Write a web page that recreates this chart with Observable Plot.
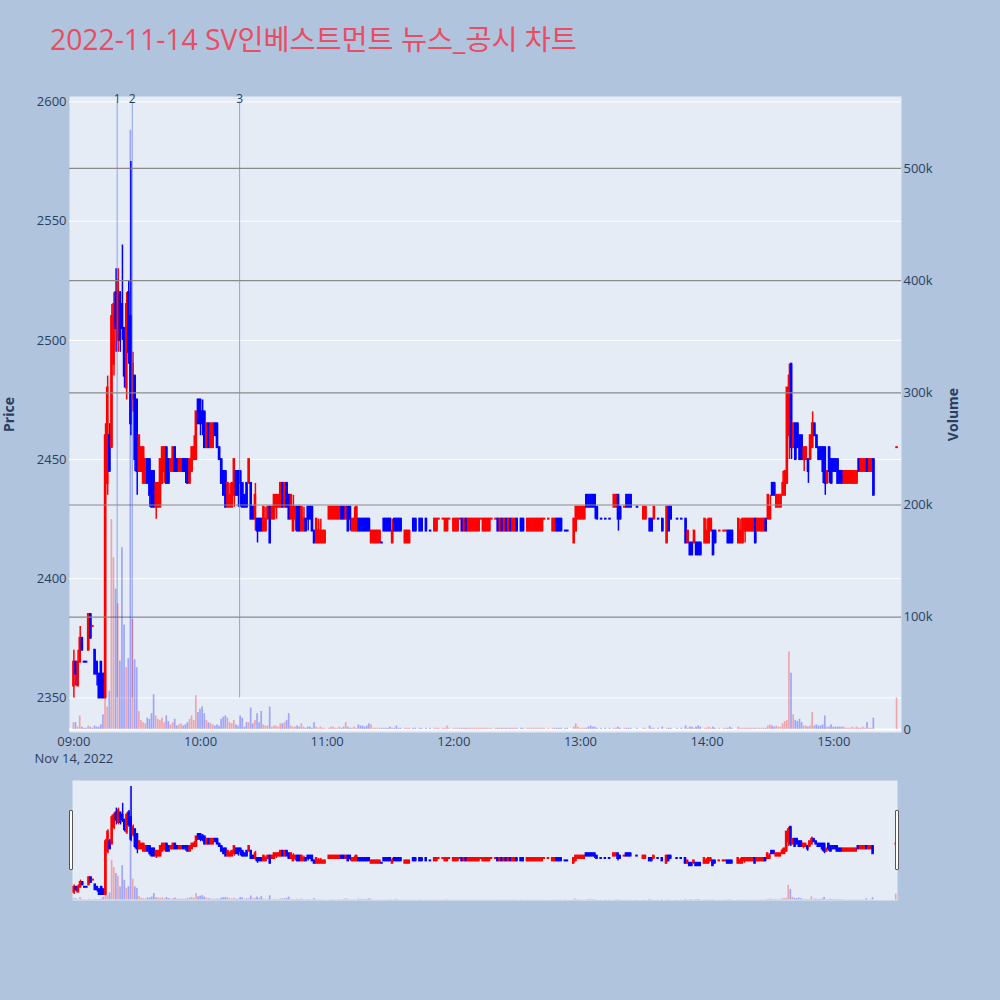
<!DOCTYPE html>
<html>
<head>
<meta charset="utf-8">
<script src="https://cdn.jsdelivr.net/npm/d3@7"></script>
<script src="https://cdn.jsdelivr.net/npm/@observablehq/plot@0.6"></script>
<style>
  html, body { margin: 0; padding: 0; background: #b0c4de; }
  #wrap { position: relative; width: 1000px; height: 1000px; background: #b0c4de; overflow: hidden; }
  #wrap svg { position: absolute; left: 0; }
  #title { position: absolute; left: 50px; top: 25px; font-size: 28.3px; line-height: 28px; color: #ea4c63;
           white-space: nowrap; font-family: 'Open Sans', 'Noto Sans CJK KR', sans-serif; }
  .handle { position: absolute; width: 2px; height: 58px; background: #fff; border: 1px solid #555; border-radius: 1px; }
</style>
</head>
<body>
<div id="wrap">
  <div id="title">2022-11-14 SV인베스트먼트 뉴스_공시 차트</div>
</div>
<script>
// ---------------- data (minutes after 09:00, OHLC in KRW, volume in thousand shares) ----------------
const minutes = [
  0,1,2,3,4,5,6,7,8,9,
  10,11,12,13,14,15,16,17,18,19,
  20,21,22,23,24,25,26,27,28,29,
  30,31,32,33,34,35,36,37,38,39,
  40,41,42,43,44,45,46,47,48,49,
  50,51,52,53,54,55,56,57,58,59,
  60,61,62,63,64,65,66,67,68,69,
  70,71,72,73,74,75,76,77,78,79,
  80,81,82,83,84,85,86,87,88,89,
  90,91,92,93,94,95,96,97,98,99,
  100,101,102,103,104,105,106,107,108,109,
  110,111,112,113,114,115,116,117,118,119,
  121,122,123,124,125,126,127,128,129,130,
  131,132,133,134,135,136,137,138,139,140,
  141,142,143,144,145,146,147,148,149,150,
  151,152,153,154,155,157,158,159,161,162,
  164,165,167,169,171,172,173,175,176,177,
  178,180,181,182,183,184,185,186,187,188,
  189,190,191,192,193,194,195,196,197,198,
  200,201,202,203,204,205,206,207,208,209,
  210,212,213,215,216,217,218,219,220,221,
  222,223,225,227,228,229,230,231,233,234,
  237,238,239,240,241,242,243,244,245,246,
  247,248,250,252,254,256,257,258,259,261,
  262,263,264,267,270,271,273,274,275,277,
  279,281,282,283,286,288,290,291,292,293,
  294,295,296,297,299,300,301,302,303,304,
  306,308,309,310,311,312,315,316,317,318,
  319,320,321,322,323,324,325,326,327,328,
  329,330,331,332,333,334,335,336,337,338,
  339,340,341,342,343,344,345,346,347,348,
  349,350,351,352,353,354,355,356,357,358,
  359,360,361,362,363,364,365,366,367,368,
  369,370,371,372,373,374,375,376,377,378,
  379,390
];
const opens = [
  2355,2365,2355,2365,2375,2365,2365,2370,2385,2380,
  2370,2365,2360,2365,2360,2350,2440,2460,2455,2490,
  2520,2500,2520,2515,2505,2480,2520,2510,2475,2485,
  2475,2445,2445,2440,2440,2450,2450,2445,2445,2430,
  2430,2430,2440,2445,2455,2450,2445,2445,2455,2450,
  2445,2445,2450,2450,2450,2440,2445,2450,2450,2475,
  2475,2470,2470,2455,2465,2455,2455,2465,2465,2455,
  2450,2445,2445,2430,2430,2430,2435,2445,2445,2445,
  2440,2435,2440,2440,2440,2430,2425,2425,2425,2425,
  2420,2420,2425,2430,2425,2425,2430,2430,2430,2440,
  2430,2440,2435,2425,2420,2425,2430,2430,2420,2420,
  2425,2430,2430,2430,2420,2415,2415,2415,2415,2415,
  2425,2425,2425,2425,2425,2425,2430,2430,2425,2430,
  2430,2420,2420,2420,2425,2425,2425,2425,2425,2425,
  2415,2415,2415,2415,2415,2415,2425,2425,2425,2425,
  2415,2425,2425,2425,2425,2415,2415,2415,2425,2425,
  2425,2425,2425,2420,2420,2420,2425,2425,2420,2420,
  2425,2420,2420,2420,2425,2425,2420,2425,2420,2420,
  2420,2420,2420,2420,2425,2420,2420,2420,2420,2425,
  2425,2425,2420,2425,2420,2425,2420,2425,2420,2420,
  2425,2425,2425,2420,2420,2420,2420,2420,2420,2420,
  2420,2425,2425,2420,2420,2425,2425,2425,2420,2420,
  2415,2420,2425,2425,2425,2425,2435,2435,2435,2435,
  2435,2430,2425,2425,2425,2430,2430,2435,2430,2430,
  2435,2435,2435,2430,2425,2425,2425,2425,2425,2425,
  2425,2415,2430,2430,2425,2425,2425,2415,2415,2415,
  2415,2415,2415,2415,2415,2415,2415,2420,2420,2420,
  2420,2420,2420,2420,2420,2420,2415,2415,2415,2420,
  2420,2420,2420,2420,2425,2420,2420,2420,2420,2425,
  2425,2425,2440,2440,2430,2430,2430,2435,2435,2440,
  2460,2490,2455,2465,2465,2460,2460,2450,2450,2450,
  2450,2455,2465,2460,2455,2455,2455,2455,2440,2455,
  2450,2450,2450,2450,2445,2445,2440,2440,2440,2440,
  2440,2440,2440,2450,2445,2445,2445,2450,2445,2445,
  2450,2455
];
const highs = [
  2370,2365,2370,2380,2375,2365,2365,2385,2385,2380,
  2370,2365,2360,2365,2360,2465,2485,2465,2515,2520,
  2530,2530,2520,2540,2505,2520,2525,2575,2495,2485,
  2475,2460,2455,2455,2450,2450,2450,2445,2445,2440,
  2440,2450,2455,2455,2455,2450,2450,2455,2455,2450,
  2450,2450,2450,2450,2450,2450,2455,2460,2470,2475,
  2475,2475,2470,2465,2465,2465,2465,2465,2465,2455,
  2450,2445,2445,2440,2440,2440,2450,2445,2445,2445,
  2440,2435,2440,2450,2440,2430,2440,2425,2425,2425,
  2430,2430,2430,2430,2430,2435,2435,2435,2440,2440,
  2440,2440,2435,2435,2435,2430,2430,2430,2430,2430,
  2425,2430,2430,2430,2420,2425,2425,2425,2420,2420,
  2430,2430,2430,2430,2430,2430,2430,2430,2430,2430,
  2430,2425,2430,2430,2425,2425,2425,2425,2425,2425,
  2420,2420,2420,2420,2420,2415,2425,2425,2425,2425,
  2425,2425,2425,2425,2425,2420,2420,2420,2425,2425,
  2425,2425,2425,2420,2425,2425,2425,2425,2425,2425,
  2425,2425,2425,2425,2425,2425,2425,2425,2425,2425,
  2425,2425,2425,2425,2425,2425,2425,2425,2425,2425,
  2425,2425,2425,2425,2425,2425,2425,2425,2425,2425,
  2425,2425,2425,2425,2425,2425,2425,2425,2425,2425,
  2425,2425,2425,2425,2425,2425,2425,2425,2420,2420,
  2425,2430,2430,2430,2430,2430,2435,2435,2435,2435,
  2435,2430,2425,2425,2425,2435,2435,2435,2430,2430,
  2435,2435,2435,2430,2430,2430,2425,2425,2430,2425,
  2425,2430,2430,2430,2425,2425,2425,2420,2415,2415,
  2420,2415,2415,2415,2425,2425,2425,2425,2420,2420,
  2420,2420,2420,2420,2420,2420,2425,2425,2425,2425,
  2425,2425,2425,2425,2425,2425,2425,2425,2425,2425,
  2435,2435,2440,2440,2435,2435,2435,2445,2445,2480,
  2490,2490,2465,2465,2465,2460,2460,2455,2455,2450,
  2460,2470,2465,2460,2455,2455,2455,2455,2445,2455,
  2450,2450,2450,2450,2445,2445,2445,2445,2445,2445,
  2445,2445,2445,2450,2450,2450,2450,2450,2450,2450,
  2450,2455
];
const lows = [
  2350,2355,2355,2365,2370,2365,2365,2370,2375,2380,
  2360,2355,2350,2350,2350,2350,2435,2445,2455,2485,
  2495,2495,2495,2500,2480,2475,2490,2460,2470,2445,
  2435,2445,2445,2440,2440,2440,2430,2430,2430,2425,
  2430,2430,2440,2440,2440,2440,2445,2445,2445,2445,
  2445,2445,2445,2440,2440,2440,2445,2450,2450,2465,
  2460,2460,2455,2455,2455,2455,2455,2460,2455,2450,
  2440,2435,2430,2430,2430,2430,2430,2435,2430,2430,
  2430,2430,2430,2440,2425,2425,2420,2415,2420,2420,
  2420,2420,2425,2415,2425,2425,2425,2430,2430,2430,
  2430,2430,2425,2425,2420,2420,2420,2420,2420,2420,
  2420,2420,2425,2420,2415,2415,2415,2415,2415,2415,
  2425,2425,2425,2425,2425,2425,2425,2425,2425,2420,
  2420,2420,2420,2420,2420,2420,2420,2420,2420,2420,
  2415,2415,2415,2415,2415,2415,2420,2420,2420,2420,
  2415,2420,2420,2420,2420,2415,2415,2415,2420,2420,
  2420,2420,2420,2420,2420,2420,2425,2425,2420,2420,
  2425,2420,2420,2420,2425,2420,2420,2420,2420,2420,
  2420,2420,2420,2420,2425,2420,2420,2420,2420,2425,
  2425,2420,2420,2420,2420,2420,2420,2420,2420,2420,
  2420,2420,2420,2420,2420,2420,2420,2420,2420,2420,
  2420,2425,2425,2420,2420,2420,2420,2420,2420,2420,
  2415,2420,2425,2425,2425,2425,2430,2430,2430,2430,
  2425,2425,2425,2425,2425,2430,2430,2420,2425,2430,
  2430,2430,2430,2430,2425,2425,2420,2420,2425,2425,
  2420,2415,2420,2425,2425,2425,2415,2415,2410,2410,
  2415,2410,2410,2410,2415,2415,2415,2420,2410,2415,
  2420,2420,2420,2415,2415,2415,2415,2415,2415,2415,
  2420,2420,2420,2420,2415,2420,2420,2420,2420,2420,
  2425,2425,2435,2435,2430,2430,2430,2435,2435,2440,
  2450,2450,2455,2450,2455,2450,2450,2445,2450,2440,
  2450,2455,2460,2455,2450,2450,2440,2435,2440,2440,
  2440,2445,2445,2440,2440,2440,2440,2440,2440,2440,
  2440,2440,2440,2445,2445,2445,2445,2445,2445,2445,
  2435,2455
];
const closes = [
  2365,2360,2365,2375,2370,2365,2365,2385,2375,2380,
  2360,2360,2350,2350,2350,2460,2480,2445,2510,2515,
  2505,2525,2500,2505,2485,2515,2495,2465,2490,2450,
  2445,2460,2455,2455,2450,2440,2435,2430,2430,2440,
  2440,2450,2455,2455,2440,2440,2450,2455,2445,2445,
  2450,2450,2445,2445,2440,2450,2455,2455,2470,2465,
  2465,2465,2455,2465,2455,2465,2465,2460,2455,2450,
  2440,2435,2430,2440,2435,2440,2450,2435,2435,2440,
  2430,2430,2430,2450,2425,2425,2435,2420,2420,2420,
  2430,2425,2430,2415,2430,2435,2435,2435,2440,2430,
  2440,2430,2425,2435,2430,2430,2420,2420,2430,2425,
  2420,2425,2425,2420,2415,2425,2420,2420,2420,2420,
  2430,2430,2430,2430,2430,2430,2425,2425,2430,2420,
  2425,2425,2425,2430,2420,2420,2420,2420,2420,2420,
  2420,2420,2420,2420,2420,2415,2420,2420,2420,2420,
  2420,2420,2420,2420,2420,2420,2420,2420,2420,2420,
  2420,2420,2420,2420,2425,2425,2425,2425,2425,2425,
  2425,2425,2425,2425,2425,2420,2425,2420,2425,2425,
  2425,2425,2425,2425,2425,2425,2425,2425,2425,2425,
  2425,2420,2425,2420,2425,2420,2425,2420,2425,2425,
  2420,2420,2420,2425,2425,2425,2425,2425,2425,2425,
  2425,2425,2425,2425,2425,2420,2420,2420,2420,2420,
  2425,2430,2430,2430,2430,2430,2430,2430,2430,2430,
  2430,2425,2425,2425,2425,2435,2435,2425,2425,2430,
  2430,2430,2430,2430,2430,2430,2420,2420,2430,2425,
  2420,2430,2420,2425,2425,2425,2415,2420,2410,2410,
  2420,2410,2410,2410,2425,2420,2425,2425,2410,2415,
  2420,2420,2420,2415,2415,2415,2425,2420,2425,2425,
  2425,2425,2425,2425,2415,2425,2425,2425,2425,2420,
  2435,2430,2435,2435,2435,2435,2435,2440,2445,2480,
  2485,2455,2465,2450,2455,2450,2450,2455,2455,2445,
  2460,2465,2460,2455,2450,2450,2445,2440,2445,2445,
  2440,2445,2445,2440,2440,2440,2445,2445,2445,2445,
  2445,2445,2445,2445,2450,2450,2450,2445,2450,2450,
  2435,2455
];
const volumesK = [
  6,6,2,12,2,1,1,3,2,1,
  3,2,2,4,13,121,20,34,187,153,
  125,112,61,162,93,55,63,534,98,62,
  55,16,8,6,5,10,9,14,31,12,
  9,8,10,6,12,7,4,6,9,3,
  4,5,3,4,6,9,12,8,30,15,
  18,20,14,8,6,5,4,3,4,3,
  9,11,12,10,6,5,8,4,3,12,
  10,2,6,6,19,5,8,14,6,16,
  4,3,3,20,2,3,3,2,5,5,
  6,8,14,3,2,2,3,2,5,2,
  1,2,2,1,6,2,1,2,1,1,
  1,2,2,1,1,2,1,2,6,2,
  1,1,2,1,4,3,3,2,3,5,
  4,1,1,1,1,1,1,1,1,2,
  1,1,3,1,1,1,1,1,1,1,
  1,1,1,1,1,1,1,1,1,3,
  1,1,1,1,1,1,1,1,1,1,
  1,1,1,1,1,1,1,1,1,1,
  1,1,1,1,1,1,1,1,1,1,
  1,1,1,1,1,1,1,1,1,1,
  1,1,1,1,1,1,1,1,1,1,
  2,5,2,1,1,1,1,2,3,2,
  2,1,1,1,1,1,1,2,1,1,
  1,1,1,1,1,1,3,1,1,1,
  2,1,1,1,1,1,3,1,2,2,
  1,2,3,2,1,1,2,1,2,1,
  1,1,1,1,2,1,2,1,1,1,
  1,1,1,1,1,1,1,1,1,1,
  3,4,3,2,3,2,2,5,7,8,
  69,50,13,8,7,9,6,3,3,2,
  3,15,3,4,3,3,4,12,2,2,
  4,2,2,2,2,2,2,1,1,1,
  2,1,2,1,1,2,1,6,1,1,
  10,28
];

// axis ticks and labels
const hourLabels = ["09:00","10:00","11:00","12:00","13:00","14:00","15:00"];
const dateLabel = "Nov 14, 2022";
const priceTicks = [2350, 2400, 2450, 2500, 2550, 2600];
const volumeTicks = [0, 100000, 200000, 300000, 400000, 500000];

// news / disclosure markers
const newsLabels = ["1", "2", "3"];
const newsTimes = ["09:20:30", "09:27:40", "10:18:30"];

// ---------------- build ----------------
const lens = [minutes, opens, highs, lows, closes, volumesK].map(a => a.length);
if (new Set(lens).size !== 1) console.error("array length mismatch", lens);

const T0 = Date.UTC(2022, 10, 14, 9, 0, 0);
const at = m => new Date(T0 + m * 60000);
const parseHMS = s => { const [h, mi, se = 0] = s.split(":").map(Number); return new Date(T0 + ((h - 9) * 3600 + mi * 60 + se) * 1000); };

const UP = "#ff0000", DOWN = "#0000ff";
const BODY_HALF = 0.6, VOL_HALF = 0.4; // minutes

let prevClose = null, prevUp = true;
const rows = minutes.map((m, i) => {
  const o = opens[i], c = closes[i];
  let up;
  if (c > o) up = true;
  else if (c < o) up = false;
  else up = prevClose == null ? true : (c > prevClose ? true : (c < prevClose ? false : prevUp));
  prevClose = c; prevUp = up;
  return {
    time: at(m), t1: at(m - BODY_HALF), t2: at(m + BODY_HALF),
    v1: at(m - VOL_HALF), v2: at(m + VOL_HALF),
    open: o, high: highs[i], low: lows[i], close: c,
    lo: Math.min(o, c), hi: Math.max(o, c),
    volume: volumesK[i] * 1000,
    color: up ? UP : DOWN
  };
});
const news = newsLabels.map((l, i) => ({label: l, time: parseHMS(newsTimes[i])}));
const hourTicks = hourLabels.map(s => parseHMS(s));

const xDomainMain = [at(-2.08), at(392.1)];
const xDomainSlider = [at(-0.8), at(390.6)];
const FONT = "'Open Sans', 'Noto Sans CJK KR', sans-serif";
const INK = "#2a3f5f";
const baseStyle = {background: "transparent", color: INK, fontFamily: FONT, fontSize: "13px", overflow: "visible"};

const mainFrame = {width: 1000, height: 770, marginTop: 96, marginBottom: 38, marginLeft: 69, marginRight: 99};

// price layer
const pricePlot = Plot.plot({
  ...mainFrame,
  style: baseStyle,
  x: {type: "utc", domain: xDomainMain, axis: null},
  y: {domain: [2335.5, 2602.3], axis: null},
  color: {type: "identity"},
  marks: [
    Plot.frame({fill: "#e5ecf6", stroke: "none"}),
    Plot.gridY({ticks: priceTicks, stroke: "#ffffff", strokeOpacity: 1, strokeWidth: 1}),
    Plot.ruleX(rows, {x: "time", y1: "low", y2: "high", stroke: "color", strokeWidth: 1.5}),
    Plot.rect(rows, {x1: "t1", x2: "t2", y1: "lo", y2: "hi", fill: "color", insetTop: -1, insetBottom: -1}),
    Plot.ruleX(news, {x: "time", y1: priceTicks[0], y2: priceTicks[priceTicks.length - 1], stroke: "royalblue", strokeOpacity: 0.55, strokeWidth: 1}),
    Plot.text(news, {x: "time", y: priceTicks[priceTicks.length - 1], text: "label", lineAnchor: "bottom", dy: 1, fill: INK, fontSize: 12}),
    Plot.axisY({ticks: priceTicks, anchor: "left", tickSize: 0, tickPadding: 3, tickFormat: d3.format("d"), label: null}),
    Plot.axisX({ticks: hourTicks, anchor: "bottom", tickSize: 0, tickPadding: 4, tickFormat: d3.utcFormat("%H:%M"), label: null}),
    Plot.text([dateLabel], {x: () => hourTicks[0], frameAnchor: "bottom", dy: 26, text: d => d, lineAnchor: "middle", fill: INK}),
    Plot.text(["Price"], {frameAnchor: "left", dx: -60, rotate: -90, text: d => d, textAnchor: "middle", lineAnchor: "middle", fontWeight: "bold", fontSize: 14, fill: INK})
  ]
});

// volume layer (secondary axis)
const volumePlot = Plot.plot({
  ...mainFrame,
  style: baseStyle,
  x: {type: "utc", domain: xDomainMain, axis: null},
  y: {domain: [-2760, 564100], axis: null},
  color: {type: "identity"},
  marks: [
    Plot.gridY({ticks: volumeTicks.slice(1), stroke: "#8a8a8a", strokeOpacity: 1, strokeWidth: 1.2}),
    Plot.gridY({ticks: volumeTicks.slice(0, 1), stroke: "#ffffff", strokeOpacity: 1, strokeWidth: 2}),
    Plot.rect(rows, {x1: "v1", x2: "v2", y1: 0, y2: "volume", fill: "color", fillOpacity: 0.3}),
    Plot.axisY({ticks: volumeTicks, anchor: "right", tickSize: 0, tickPadding: 2, tickFormat: d3.format("~s"), label: null}),
    Plot.text(["Volume"], {frameAnchor: "right", dx: 52, rotate: -90, text: d => d, textAnchor: "middle", lineAnchor: "middle", fontWeight: "bold", fontSize: 14, fill: INK})
  ]
});

// range slider (mini chart)
const sliderFrame = {width: 1000, height: 120, marginTop: 0, marginBottom: 0, marginLeft: 72, marginRight: 103};
const sliderPrice = Plot.plot({
  ...sliderFrame,
  style: baseStyle,
  x: {type: "utc", domain: xDomainSlider, axis: null},
  y: {domain: [2337.5, 2587.5], axis: null},
  color: {type: "identity"},
  marks: [
    Plot.frame({fill: "#e5ecf6", stroke: "none"}),
    Plot.ruleX(rows, {x: "time", y1: "low", y2: "high", stroke: "color", strokeWidth: 1.4}),
    Plot.rect(rows, {x1: "t1", x2: "t2", y1: "lo", y2: "hi", fill: "color", insetTop: -1, insetBottom: -1})
  ]
});
const sliderVolume = Plot.plot({
  ...sliderFrame,
  style: baseStyle,
  x: {type: "utc", domain: xDomainSlider, axis: null},
  y: {domain: [-2300, 564000], axis: null},
  color: {type: "identity"},
  marks: [
    Plot.rect(rows, {x1: "v1", x2: "v2", y1: 0, y2: "volume", fill: "color", fillOpacity: 0.3})
  ]
});

const wrap = document.getElementById("wrap");
const title = document.getElementById("title");
[[pricePlot, 0], [volumePlot, 0], [sliderPrice, 780], [sliderVolume, 780]].forEach(([svg, top]) => {
  svg.style.position = "absolute";
  svg.style.top = top + "px";
  svg.style.left = "0px";
  wrap.insertBefore(svg, title);
});
[69, 895].forEach(left => {
  const h = document.createElement("div");
  h.className = "handle";
  h.style.left = left + "px";
  h.style.top = "810px";
  wrap.appendChild(h);
});
</script>
</body>
</html>
